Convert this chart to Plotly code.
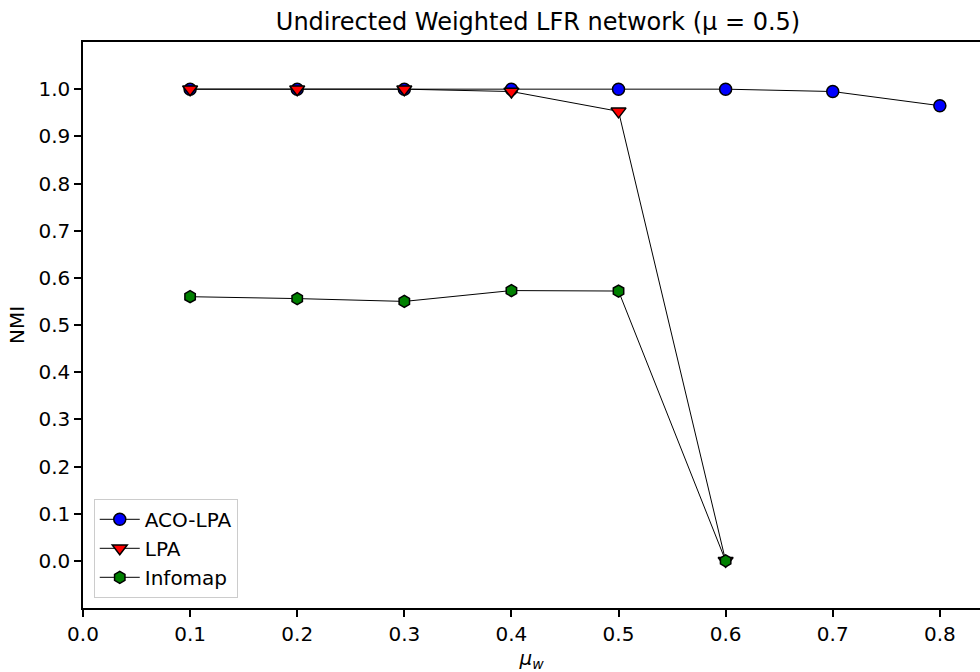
import plotly.graph_objects as go

mu_w = [0.1, 0.2, 0.3, 0.4, 0.5, 0.6, 0.7, 0.8]
aco_lpa = [1.0, 1.0, 1.0, 1.0, 1.0, 1.0, 0.995, 0.965]
mu_w_lpa = [0.1, 0.2, 0.3, 0.4, 0.5, 0.6]
lpa = [1.0, 1.0, 1.0, 0.995, 0.953, 0.0]
mu_w_info = [0.1, 0.2, 0.3, 0.4, 0.5, 0.6]
infomap = [0.560, 0.556, 0.550, 0.573, 0.572, 0.0]
x_ticks = [0.0, 0.1, 0.2, 0.3, 0.4, 0.5, 0.6, 0.7, 0.8]
y_ticks = [0.0, 0.1, 0.2, 0.3, 0.4, 0.5, 0.6, 0.7, 0.8, 0.9, 1.0]

FONT = "DejaVu Sans"
W, H = 980, 672

fig = go.Figure()
line = dict(color="black", width=1)
fig.add_trace(go.Scatter(x=mu_w, y=aco_lpa, mode="lines+markers", name="ACO-LPA",
                         line=line,
                         marker=dict(symbol="circle", size=12, color="blue",
                                     line=dict(color="black", width=1.5))))
fig.add_trace(go.Scatter(x=mu_w_lpa, y=lpa, mode="lines+markers", name="LPA",
                         line=line,
                         marker=dict(symbol="triangle-down", size=13, color="red",
                                     line=dict(color="black", width=1.5))))
fig.add_trace(go.Scatter(x=mu_w_info, y=infomap, mode="lines+markers", name="Infomap",
                         line=line,
                         marker=dict(symbol="hexagon", size=12, color="green",
                                     line=dict(color="black", width=1.5))))

axis_common = dict(showgrid=False, zeroline=False, showline=True, linecolor="black",
                   linewidth=1.5, ticks="outside", ticklen=7, tickwidth=1.5,
                   tickcolor="black", tickfont=dict(family=FONT, size=20, color="black"))

fig.update_layout(
    width=W, height=H,
    margin=dict(l=83, r=0, t=42, b=672 - 608, autoexpand=False),
    paper_bgcolor="white", plot_bgcolor="white",
    font=dict(family=FONT, size=20, color="black"),
    title=dict(text="Undirected Weighted LFR network (μ = 0.5)",
               x=538 / W, xref="container", xanchor="center",
               y=1 - 22 / H, yref="container", yanchor="middle",
               font=dict(family=FONT, size=24, color="black")),
    xaxis=dict(range=[0, 0.8375], tickvals=x_ticks,
               ticktext=[f"{v:.1f}" for v in x_ticks], mirror=True,
               title=dict(text="<i>μ<sub>w</sub></i>", standoff=8,
                          font=dict(family=FONT, size=20)),
               **axis_common),
    yaxis=dict(range=[-0.1, 1.1], tickvals=y_ticks,
               ticktext=[f"{v:.1f}" for v in y_ticks], mirror=False,
               title=dict(text="NMI", standoff=8, font=dict(family=FONT, size=20)),
               **axis_common),
    legend=dict(x=0.012, y=0.018, xanchor="left", yanchor="bottom",
                bgcolor="rgba(255,255,255,0.8)", bordercolor="#cccccc", borderwidth=1,
                font=dict(family=FONT, size=20), tracegroupgap=0, itemwidth=40),
    showlegend=True,
)

fig.write_html("out.html",
               config={"displayModeBar": False},
               post_script="document.body.style.margin='0';document.body.style.overflow='hidden';")
